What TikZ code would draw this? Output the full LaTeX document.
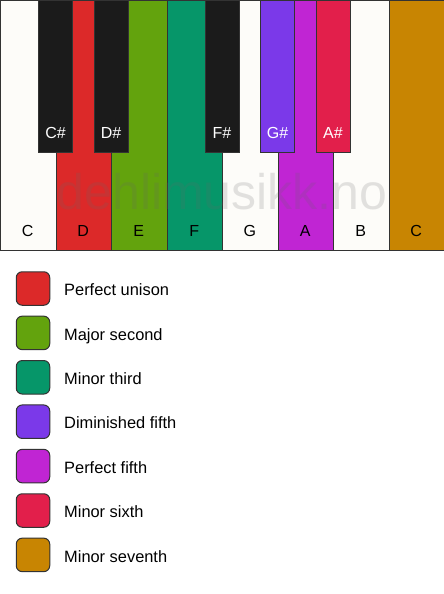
\documentclass[tikz,border=0pt]{standalone}
\usepackage{fontspec}
\setmainfont{Liberation Sans}
\usepackage{tikz}
\definecolor{keywhite}{HTML}{FDFCF9}
\definecolor{keyblack}{HTML}{1B1B1B}
\definecolor{keyline}{HTML}{333333}
\definecolor{unison}{HTML}{DC2929}
\definecolor{second}{HTML}{63A30D}
\definecolor{third}{HTML}{069669}
\definecolor{dimfifth}{HTML}{7B39E9}
\definecolor{fifth}{HTML}{C025D3}
\definecolor{sixth}{HTML}{E21F4B}
\definecolor{seventh}{HTML}{C88502}
\tikzstyle{wkey}=[rectangle, draw=keyline, line width=1pt, inner sep=0pt, anchor=north west, minimum width=55.5pt, minimum height=250pt]
\tikzstyle{bkey}=[rectangle, draw=keyline, line width=1pt, inner sep=0pt, anchor=north, minimum width=34pt, minimum height=152pt]
\tikzstyle{klabel}=[anchor=base, inner sep=0pt, font=\fontsize{16}{19}\selectfont]
\tikzstyle{swatch}=[rectangle, rounded corners=6pt, draw=keyline, line width=1pt, minimum size=33.5pt, inner sep=0pt]
\tikzstyle{ltext}=[anchor=base west, inner sep=0pt, font=\fontsize{16.4}{19}\selectfont]

\begin{document}
\begin{tikzpicture}[x=1pt, y=-1pt]
    \useasboundingbox (0,0) rectangle (444,594);
    \foreach \i/\name/\col in {0/C/keywhite, 1/D/unison, 2/E/second, 3/F/third,
          4/G/keywhite, 5/A/fifth, 6/B/keywhite, 7/C/seventh}
    {
      \node[wkey, fill=\col] (w\i) at (55.5*\i,0) {};
      \node[klabel] (lw\i) at (55.5*\i+27.75,236) {\name};
    }
    \foreach \x/\name/\col in {1/C\#/keyblack, 2/D\#/keyblack, 4/F\#/keyblack,
          5/G\#/dimfifth, 6/A\#/sixth}
    {
      \node[bkey, fill=\col] (b\x) at (55.5*\x,0) {};
      \node[klabel, text=white] (lb\x) at (55.5*\x,138) {\name};
    }
    \node[anchor=base, text=black!60, opacity=.18,
      font=\fontsize{50}{60}\selectfont] (mark) at (222,209) {dehlimusikk.no};

    \foreach \k/\col/\name in {0/unison/Perfect unison, 1/second/Major second,
          2/third/Minor third, 3/dimfifth/Diminished fifth, 4/fifth/Perfect fifth,
          5/sixth/Minor sixth, 6/seventh/Minor seventh}
    {
      \node[swatch, fill=\col] (s\k) at (33,288.5+44.4*\k) {};
      \node[ltext] (t\k) at (64,295.7+44.4*\k) {\name};
    }
\end{tikzpicture}
\end{document}
